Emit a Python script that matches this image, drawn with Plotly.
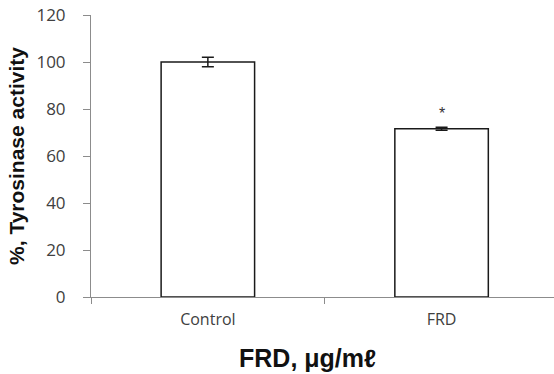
import plotly.graph_objects as go

# Tyrosinase activity (% of control) with standard deviation
groups = ["Control", "FRD"]
activity = [100.0, 71.6]
errors = [2.0, 0.6]
significance = ["", "*"]

y_ticks = [0, 20, 40, 60, 80, 100, 120]

fig = go.Figure()
fig.add_trace(go.Bar(
    x=groups,
    y=activity,
    width=0.40,
    marker=dict(color="white", line=dict(color="#1a1a1a", width=1.5)),
    error_y=dict(type="data", array=errors, visible=True,
                 color="#1a1a1a", thickness=1.5, width=6),
    showlegend=False,
))

# significance marks above the bars
for g, v, e, s in zip(groups, activity, errors, significance):
    if s:
        fig.add_annotation(x=g, y=v + e, yref="y", text=s, showarrow=False,
                           yanchor="bottom", yshift=3,
                           font=dict(family="Liberation Sans", size=16, color="#333"))

# x-axis title
fig.add_annotation(xref="paper", yref="paper", x=(307 - 91) / 463, y=-0.215,
                   xanchor="center", yanchor="middle", showarrow=False,
                   text="<b>FRD, μg/mℓ</b>",
                   font=dict(family="Liberation Sans", size=25, color="#111"))

fig.update_layout(
    width=554, height=374,
    margin=dict(l=91, r=0, t=15, b=77),
    paper_bgcolor="white", plot_bgcolor="white",
    bargap=0.6,
    xaxis=dict(
        range=[-0.5, 1.481],
        showline=True, linecolor="#8c8c8c", linewidth=1,
        ticks="outside", tickson="boundaries", ticklen=6, tickcolor="#8c8c8c",
        tickfont=dict(family="Open Sans", size=16, color="#404040"),
        ticklabelstandoff=8,
        showgrid=False, zeroline=False,
    ),
    yaxis=dict(
        range=[0, 120], tickvals=y_ticks,
        showline=True, linecolor="#8c8c8c", linewidth=1,
        ticks="outside", ticklen=7, tickcolor="#8c8c8c",
        tickfont=dict(family="Open Sans", size=17, color="#404040"),
        ticklabelstandoff=14,
        showgrid=False, zeroline=False,
        title=dict(text="<b>%, Tyrosinase activity</b>", standoff=6,
                   font=dict(family="Liberation Sans", size=21, color="#111")),
    ),
)

fig.write_html("out.html")
